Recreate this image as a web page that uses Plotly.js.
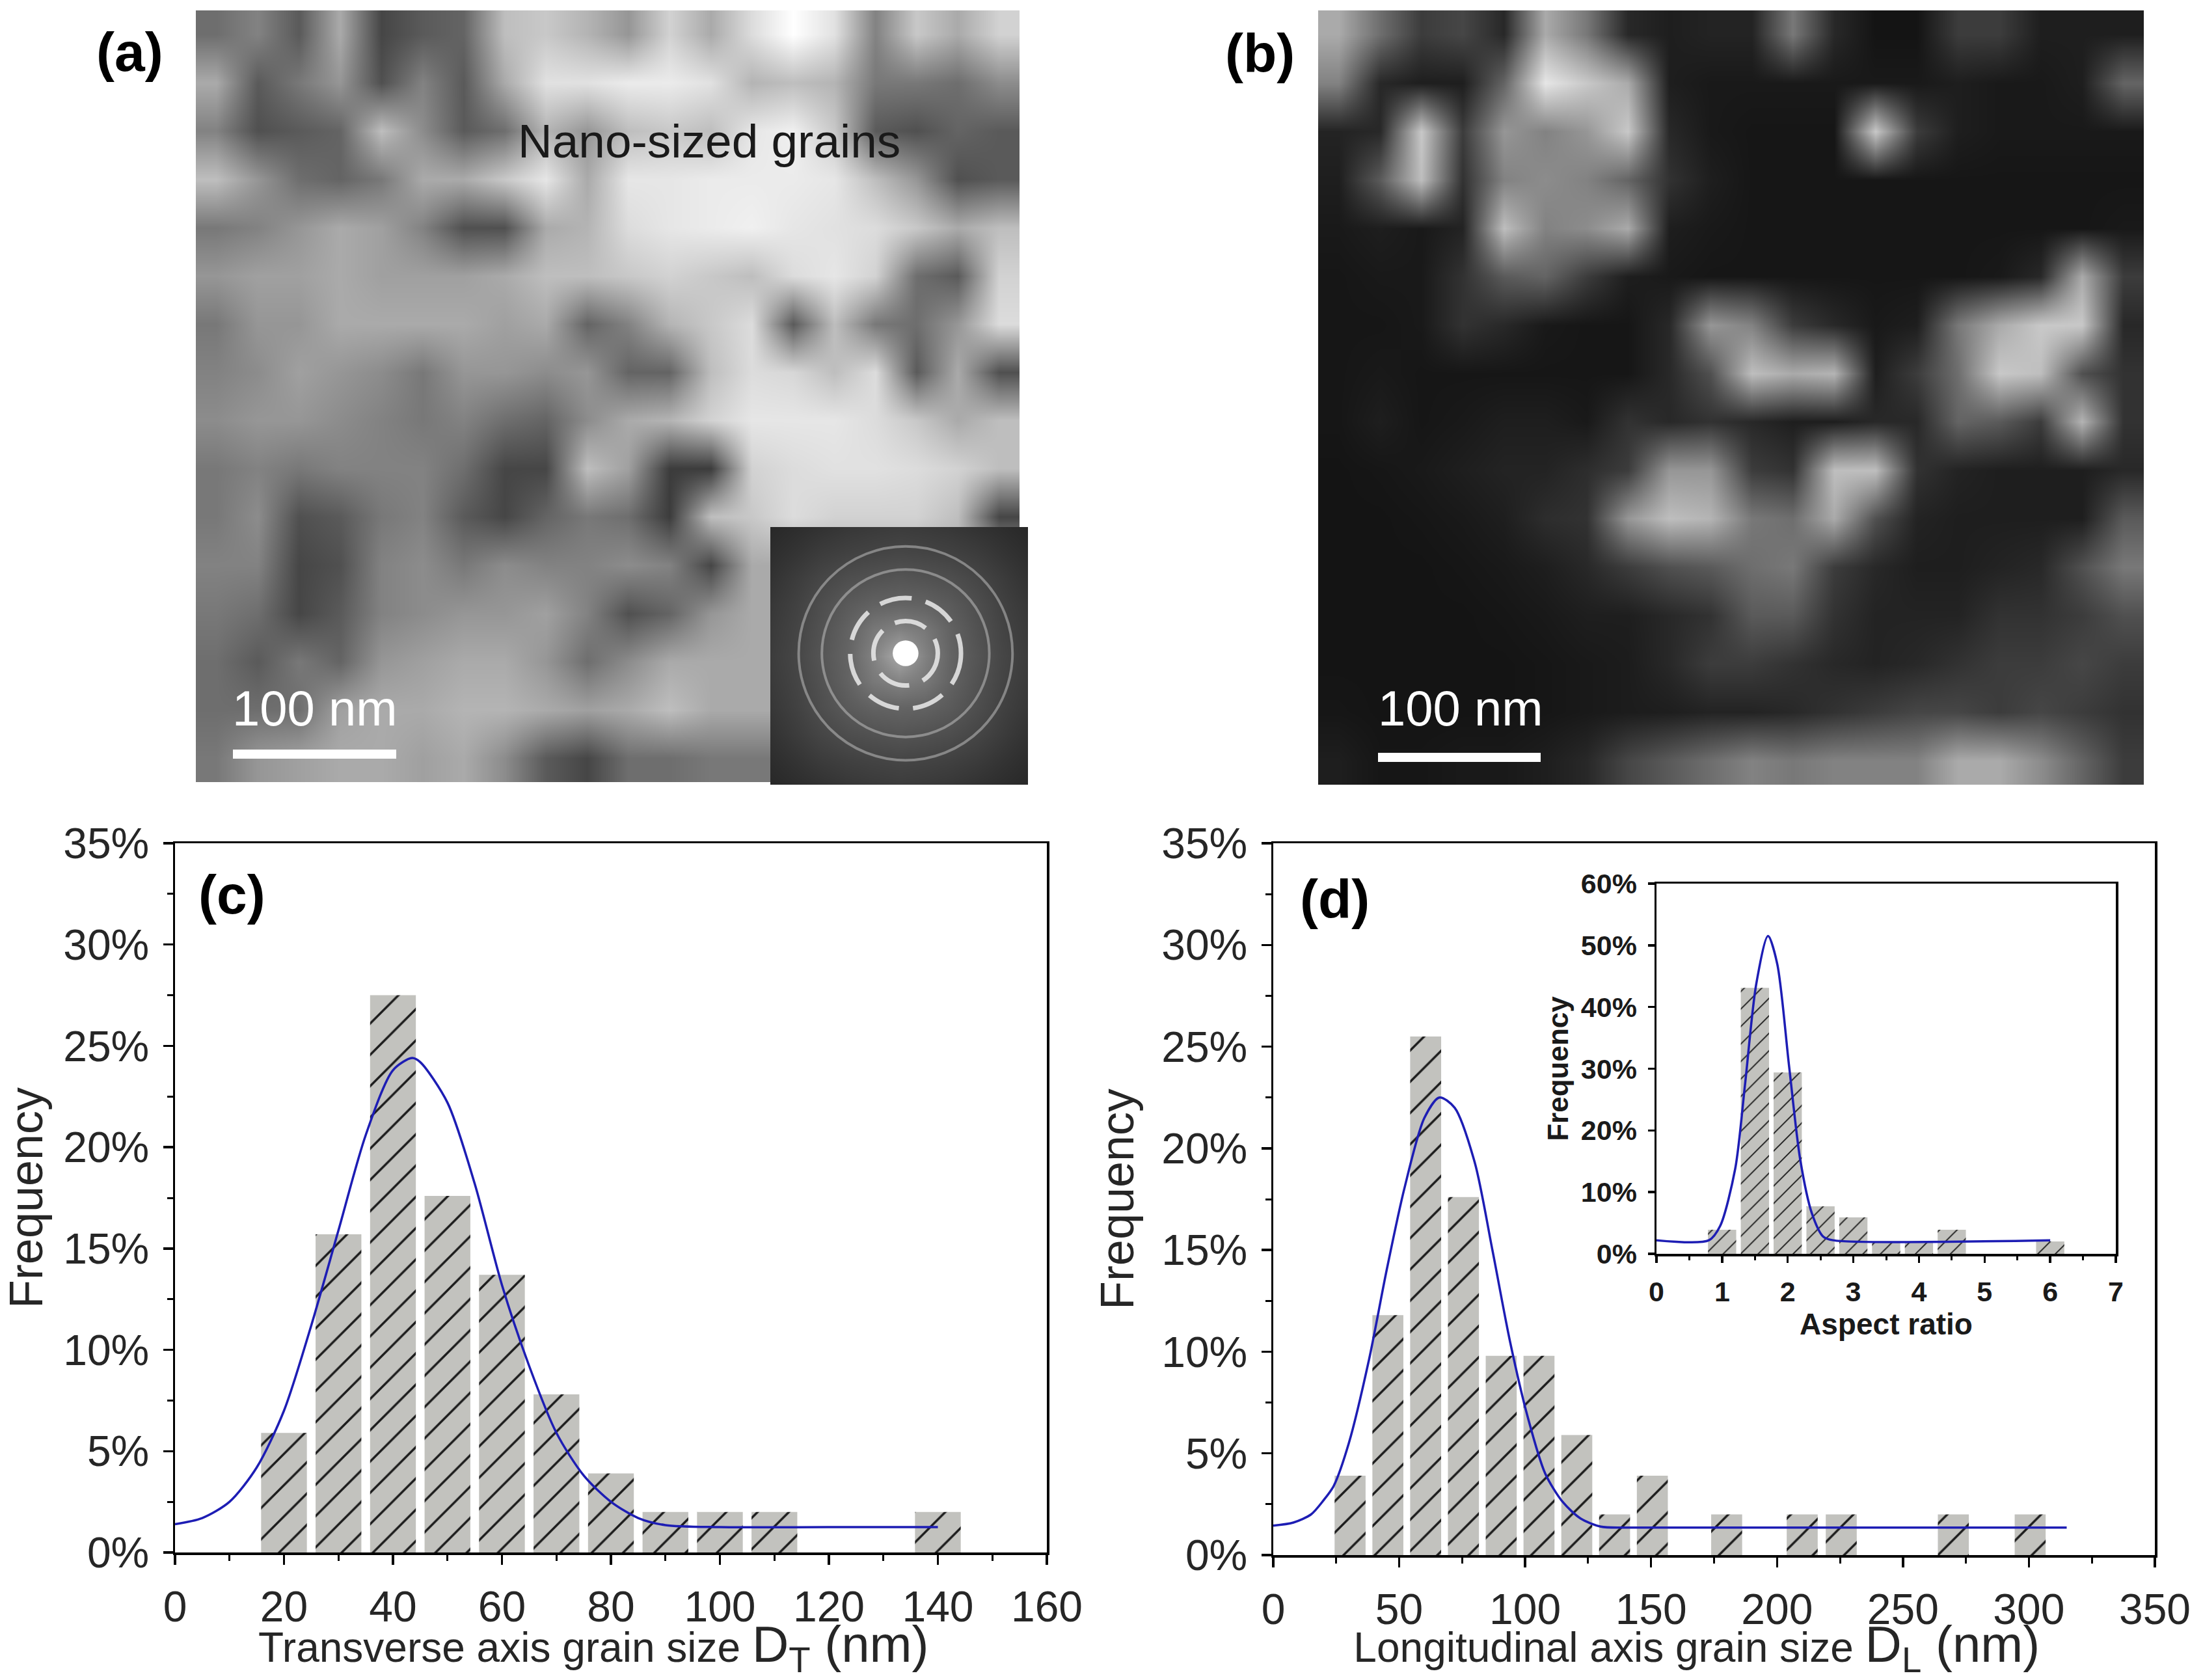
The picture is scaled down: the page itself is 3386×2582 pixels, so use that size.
<!DOCTYPE html>
<html>
<head>
<meta charset="utf-8">
<script src="https://cdn.plot.ly/plotly-3.0.1.min.js"></script>
<style>
  html, body { margin: 0; padding: 0; background: #fff; }
</style>
</head>
<body>
<div id="fig"></div>
<script>
// Grain size figure: two micrographs (a, b) and two histograms (c, d) with an inset

// Panel (c), transverse axis
let dtBins  = [20, 30, 40, 50, 60, 70, 80, 90, 100, 110, 140];
let dtFreq  = [5.9, 15.7, 27.5, 17.6, 13.7, 7.8, 3.9, 2, 2, 2, 2];
let dtFitX  = [0, 5, 10, 15, 20, 25, 30, 35, 40, 43.5, 45, 50, 55, 60, 65, 70, 75, 80, 85, 90, 100, 120, 140];
let dtFitY  = [1.4, 1.7, 2.5, 4.2, 7.0, 11.2, 15.9, 20.6, 23.8, 24.4, 24.2, 22.2, 18.2, 13.2, 9.2, 5.9, 3.8, 2.5, 1.7, 1.35, 1.25, 1.25, 1.25];

// Panel (d), longitudinal axis
let dlBins  = [30.5, 45.5, 60.5, 75.5, 90.5, 105.5, 120.5, 135.5, 150.5, 180, 210, 225.5, 270, 300.5];
let dlFreq  = [3.9, 11.8, 25.5, 17.6, 9.8, 9.8, 5.9, 2, 3.9, 2, 2, 2, 2, 2];
let dlFitX  = [0, 8, 15, 20, 24, 30, 38, 45, 52, 60, 66, 72, 80, 87, 94, 101, 108, 115, 122, 130, 140, 315];
let dlFitY  = [1.45, 1.6, 2.0, 2.7, 3.4, 5.5, 9.6, 14, 18, 21.5, 22.5, 22, 19.3, 15, 10.5, 6.8, 4.0, 2.6, 1.8, 1.4, 1.35, 1.35];

// Inset of (d), aspect ratio
let arBins  = [1, 1.5, 2, 2.5, 3, 3.5, 4, 4.5, 6];
let arFreq  = [3.9, 43.1, 29.4, 7.7, 5.9, 2, 2, 3.9, 2];
let arFitX  = [0, 0.8, 0.97, 1.2, 1.35, 1.52, 1.7, 1.84, 2.02, 2.19, 2.37, 2.54, 2.69, 6];
let arFitY  = [2.2, 2.2, 4.5, 13.8, 27.5, 43.7, 51.5, 47, 30.5, 15.3, 6.5, 2.8, 2.2, 2.2];

let grainsA = [
  [110,130,90,170,70,90,100,190,200,180,150,210,170,220,255,225,130,200,170,210],
  [170,90,120,150,80,130,90,170,225,225,235,235,225,180,190,180,120,120,110,140],
  [130,80,90,100,190,140,90,110,180,150,190,200,190,230,240,200,90,80,100,90],
  [190,150,110,100,120,170,170,200,230,170,230,230,235,235,235,230,190,150,80,90],
  [120,130,150,170,160,130,80,80,170,180,220,230,235,240,230,225,220,200,170,190],
  [150,160,160,170,160,160,160,170,190,190,200,210,200,190,220,230,210,110,90,210],
  [120,150,150,170,170,170,170,160,170,100,130,180,200,220,90,190,120,110,150,220],
  [130,140,160,150,140,120,150,150,140,150,100,100,190,220,215,190,220,90,170,80],
  [140,150,150,140,130,120,130,110,100,140,170,180,210,230,230,230,220,200,170,190],
  [120,130,120,130,130,130,110,70,70,190,160,60,60,210,220,225,225,220,210,190],
  [120,140,80,90,120,130,90,70,100,120,110,60,190,200,220,210,210,210,190,70],
  [130,130,70,80,130,140,120,140,130,130,140,130,70,170,170,170,170,170,170,170],
  [120,110,70,90,130,140,150,150,160,130,80,100,150,170,170,170,170,170,170,170],
  [110,90,120,100,150,160,170,170,150,110,140,170,170,170,170,170,170,170,170,170],
  [110,110,110,160,170,170,180,180,170,160,170,190,170,170,170,170,170,170,170,170],
  [120,150,160,170,170,160,170,140,90,70,110,110,120,120,120,120,120,120,120,120]
];

// Micrograph (b), same grid
let grainsB = [
  [170,110,60,70,40,170,120,40,30,35,35,120,40,20,20,60,60,30,30,30],
  [130,40,30,30,100,230,200,170,30,25,25,25,25,25,25,30,25,25,30,100],
  [35,40,200,60,150,130,150,200,40,25,22,22,22,200,60,30,25,25,25,25],
  [30,90,190,50,130,140,130,100,50,30,22,22,22,22,22,22,22,22,22,22],
  [25,30,25,35,190,130,140,170,30,25,22,22,22,22,22,22,22,22,22,25],
  [22,25,25,50,90,100,60,30,25,22,22,22,22,22,22,22,25,40,170,60],
  [22,22,25,50,40,25,22,22,40,150,130,60,40,25,30,120,170,200,200,40],
  [22,25,22,22,22,22,22,22,40,80,190,170,180,30,60,110,200,190,80,50],
  [22,30,22,25,30,30,25,50,40,50,40,30,30,40,40,100,90,60,180,50],
  [20,22,25,30,35,35,45,60,150,150,60,50,190,190,50,35,30,30,30,40],
  [20,20,22,25,30,45,50,150,190,180,120,110,170,80,35,30,30,30,30,90],
  [20,20,20,22,25,30,40,60,80,90,110,120,60,40,30,30,35,40,80,120],
  [20,20,20,20,22,25,30,30,40,50,90,90,50,35,35,35,50,50,60,80],
  [20,20,20,20,20,22,25,28,40,60,60,50,40,35,40,50,60,60,70,60],
  [22,20,20,20,20,22,25,28,30,35,35,40,50,60,70,70,60,70,60,50],
  [30,22,22,25,25,30,40,70,90,110,130,120,130,130,130,170,170,140,100,60]
];

// Diffraction pattern inset of (a)
let saedGrey = [
  [40,45,50,55,58,60,58,55,50,45,40],
  [45,52,60,65,68,70,68,65,60,52,45],
  [50,60,70,78,82,85,82,78,70,60,50],
  [55,65,78,90,98,100,98,90,78,65,55],
  [58,68,82,98,120,130,120,98,82,68,58],
  [60,70,85,100,130,170,130,100,85,70,60],
  [58,68,82,98,120,130,120,98,82,68,58],
  [55,65,78,90,98,100,98,90,78,65,55],
  [50,60,70,78,82,85,82,78,70,60,50],
  [45,52,60,65,68,70,68,65,60,52,45],
  [40,45,50,55,58,60,58,55,50,45,40]
];
let saedRings = [0.25, 0.43, 0.65, 0.83];

let W = 3386;
let H = 2582;

// px position on the page to paper fraction
let fx = function (x) { return x / W; };
let fy = function (y) { return 1 - y / H; };

let hatchBar = function (x, y, width, xa, ya, size) {
  return {
    type: 'bar', x: x, y: y, width: width, xaxis: xa, yaxis: ya,
    marker: {
      color: '#c2c2be',
      line: { width: 0 },
      pattern: { shape: '/', fgcolor: '#1c1c1c', bgcolor: '#c2c2be', size: size, solidity: 0.1 }
    }
  };
};

let fitLine = function (x, y, xa, ya) {
  return {
    type: 'scatter', mode: 'lines', x: x, y: y, xaxis: xa, yaxis: ya,
    line: { color: '#1d1db4', width: 3.5, shape: 'spline', smoothing: 0.8 }
  };
};

let greyMap = function (z, xa, ya) {
  return {
    type: 'heatmap', z: z, xaxis: xa, yaxis: ya, zmin: 0, zmax: 255, zsmooth: 'best',
    colorscale: [[0, '#000000'], [1, '#ffffff']], showscale: false
  };
};

let data = [
  greyMap(grainsA, 'x', 'y'),
  greyMap(grainsB, 'x2', 'y2'),
  { type: 'heatmap', z: saedGrey, xaxis: 'x3', yaxis: 'y3', x0: -1, dx: 0.2, y0: -1, dy: 0.2,
    zmin: 0, zmax: 255, zsmooth: 'best', colorscale: [[0, '#000000'], [1, '#ffffff']], showscale: false },
  hatchBar(dtBins, dtFreq, 8.4, 'x4', 'y4', 34),
  fitLine(dtFitX, dtFitY, 'x4', 'y4'),
  hatchBar(dlBins, dlFreq, 12.3, 'x5', 'y5', 34),
  fitLine(dlFitX, dlFitY, 'x5', 'y5'),
  hatchBar(arBins, arFreq, 0.43, 'x6', 'y6', 19),
  fitLine(arFitX, arFitY, 'x6', 'y6')
];

let tickFont = { family: 'Liberation Sans, Arial, sans-serif', size: 66, color: '#262626' };
let smallFont = { family: 'Liberation Sans, Arial, sans-serif', size: 43, color: '#1a1a1a', weight: 'bold' };

let hiddenAxis = function (x0, x1, isX, y0, y1, range) {
  return {
    domain: isX ? [fx(x0), fx(x1)] : [fy(y1), fy(y0)],
    range: range, visible: false, fixedrange: true
  };
};

let plotAxis = function (dom, range, dtick, minor, font, title, tickLen, suffix) {
  return {
    domain: dom, range: range, dtick: dtick, tick0: 0,
    ticks: 'outside', ticklen: tickLen, tickwidth: 3.5, tickcolor: '#000',
    minor: minor ? { dtick: minor, ticks: 'outside', ticklen: tickLen * 0.6, tickwidth: 3, tickcolor: '#000' } : undefined,
    ticksuffix: suffix || '', tickfont: font, ticklabelstandoff: 8,
    showline: true, linecolor: '#000', linewidth: 3.5, mirror: true,
    showgrid: false, zeroline: false, title: title
  };
};

let layout = {
  width: W,
  height: H,
  margin: { l: 0, r: 0, t: 0, b: 0 },
  paper_bgcolor: '#fff',
  plot_bgcolor: '#fff',
  showlegend: false,
  barmode: 'overlay',
  font: { family: 'Liberation Sans, Arial, sans-serif' },

  xaxis:  hiddenAxis(301, 1567, true, 0, 0, [-0.5, 19.5]),
  yaxis:  hiddenAxis(0, 0, false, 16, 1202, [15.5, -0.5]),
  xaxis2: hiddenAxis(2026, 3295, true, 0, 0, [-0.5, 19.5]),
  yaxis2: hiddenAxis(0, 0, false, 16, 1206, [15.5, -0.5]),
  xaxis3: hiddenAxis(1184, 1580, true, 0, 0, [-1, 1]),
  yaxis3: hiddenAxis(0, 0, false, 810, 1206, [-1, 1]),

  xaxis4: plotAxis([fx(269), fx(1609)], [0, 160], 20, 10, tickFont,
    { text: 'Transverse axis grain size <span style="font-size:78px">D<sub>T</sub> (nm)</span>&nbsp;&nbsp;&nbsp;',
      font: { size: 64, color: '#262626' }, standoff: 10 }, 15),
  yaxis4: plotAxis([fy(2386), fy(1296)], [0, 35], 5, 2.5, tickFont,
    { text: 'Frequency', font: { size: 72, color: '#262626' }, standoff: 20 }, 15, '%'),
  xaxis5: plotAxis([fx(1957), fx(3312)], [0, 350], 50, 25, tickFont,
    { text: 'Longitudinal axis grain size <span style="font-size:78px">D<sub>L</sub> (nm)</span>&nbsp;&nbsp;&nbsp;',
      font: { size: 64, color: '#262626' }, standoff: 10 }, 15),
  yaxis5: plotAxis([fy(2390), fy(1296)], [0, 35], 5, 2.5, tickFont,
    { text: 'Frequency', font: { size: 72, color: '#262626' }, standoff: 20 }, 15, '%'),
  xaxis6: plotAxis([fx(2546), fx(3252)], [0, 7], 1, 0.5, smallFont,
    { text: 'Aspect ratio', font: { size: 46, color: '#1a1a1a', weight: 'bold' }, standoff: 2 }, 10),
  yaxis6: plotAxis([fy(1927), fy(1358)], [0, 60], 10, null, smallFont,
    { text: 'Frequency', font: { size: 44, color: '#1a1a1a', weight: 'bold' }, standoff: 6 }, 10, '%'),

  annotations: [],
  shapes: []
};

// axis anchors, each bottom axis belongs to its own left axis
for (let i = 1; i <= 6; i++) {
  let xName = i === 1 ? 'xaxis' : 'xaxis' + i;
  let yName = i === 1 ? 'yaxis' : 'yaxis' + i;
  layout[xName].anchor = i === 1 ? 'y' : 'y' + i;
  layout[yName].anchor = i === 1 ? 'x' : 'x' + i;
}

// panel letters and labels on the micrographs
let addLabel = function (text, x, y, size, color, bold) {
  layout.annotations.push({
    text: text, xref: 'paper', yref: 'paper', x: fx(x), y: fy(y), showarrow: false,
    xanchor: 'center', yanchor: 'middle',
    font: { family: 'Liberation Sans, Arial, sans-serif', size: size, color: color, weight: bold ? 'bold' : 'normal' }
  });
};
addLabel('(a)', 199, 80, 84, '#000', true);
addLabel('(b)', 1937, 82, 84, '#000', true);
addLabel('(c)', 356, 1375, 84, '#000', true);
addLabel('(d)', 2051, 1382, 84, '#000', true);
addLabel('Nano-sized grains', 1090, 216, 73, '#1a1a1a', false);
addLabel('100 nm', 484, 1088, 76, '#fff', false);
addLabel('100 nm', 2245, 1088, 76, '#fff', false);

// scale bars
let addBar = function (x0, x1, y) {
  layout.shapes.push({
    type: 'rect', xref: 'paper', yref: 'paper', x0: fx(x0), x1: fx(x1), y0: fy(y - 7), y1: fy(y + 7),
    fillcolor: '#fff', line: { width: 0 }
  });
};
addBar(358, 609, 1159);
addBar(2118, 2368, 1164);

// diffraction rings and centre spot
saedRings.forEach(function (r, i) {
  layout.shapes.push({
    type: 'circle', xref: 'x3', yref: 'y3',
    x0: 0.05 - r, x1: 0.05 + r, y0: 0.02 - r, y1: 0.02 + r,
    line: { color: i < 2 ? 'rgba(235,235,235,0.85)' : 'rgba(200,200,200,0.5)', width: i < 2 ? 7 : 4,
            dash: i < 2 ? '50px,22px' : 'solid' }
  });
});
layout.shapes.push({
  type: 'circle', xref: 'x3', yref: 'y3', x0: -0.05, x1: 0.15, y0: -0.08, y1: 0.12,
  fillcolor: '#fff', line: { width: 0 }
});

let config = { staticPlot: true, responsive: false };

Plotly.newPlot('fig', data, layout, config);
</script>
</body>
</html>
